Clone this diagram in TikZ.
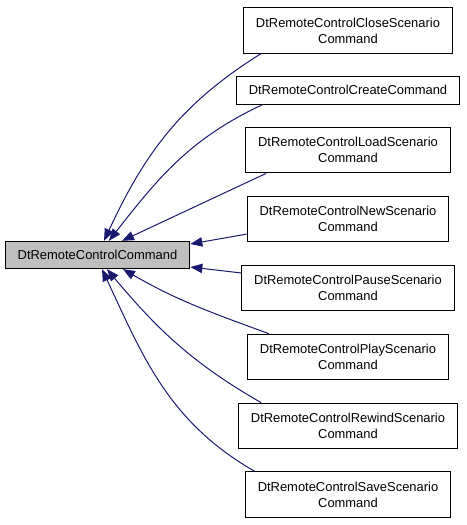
\documentclass[tikz,border=0pt]{standalone}
\usepackage{fontspec}
\setmainfont{Liberation Sans}
\usepackage{tikz}
\usetikzlibrary{arrows.meta,positioning}
\usepackage{xcolor}
\definecolor{edgeblue}{HTML}{191970}
\definecolor{basegray}{HTML}{BFBFBF}

\begin{document}
\begin{tikzpicture}[x=0.75pt,y=0.75pt,node distance=16.9pt,
font=\fontsize{9.7}{12}\selectfont,
cls/.style={rectangle,draw,line width=0.75pt,inner xsep=9.4pt,inner ysep=0pt,minimum height=34pt,align=center},
single/.style={cls,minimum height=20.5pt},
base/.style={single,fill=basegray},
paths/.style={-{Triangle[length=9pt,width=7pt]}, line width=0.75pt, draw=edgeblue},
]
\useasboundingbox (0,0) rectangle (467,-525);

\node [base] (Base) at (97.5,-255) {DtRemoteControlCommand};

\node [cls] (D1) at (348,-30.5) {DtRemoteControlCloseScenario\\Command};
\node [single] (D2) [below=of D1] {DtRemoteControlCreateCommand};
\node [cls] (D3) [below=of D2] {DtRemoteControlLoadScenario\\Command};
\node [cls] (D4) [below=of D3] {DtRemoteControlNewScenario\\Command};
\node [cls] (D5) [below=of D4] {DtRemoteControlPauseScenario\\Command};
\node [cls] (D6) [below=of D5] {DtRemoteControlPlayScenario\\Command};
\node [cls] (D7) [below=of D6] {DtRemoteControlRewindScenario\\Command};
\node [cls] (D8) [below=of D7] {DtRemoteControlSaveScenario\\Command};

% derived classes above the base
\draw [paths] ([xshift=13.5pt]D1.south west) to [out=212,in=65] ([xshift=4.9pt]Base.north);
\draw [paths] ([xshift=20.25pt]D2.south west) to [out=205,in=52] ([xshift=8.6pt]Base.north);
\draw [paths] ([xshift=15.75pt]D3.south west) to ([xshift=18.4pt]Base.north);

% derived classes beside the base
\draw [paths] ([yshift=-11.25pt]D4.west) to ([yshift=8.25pt]Base.east);
\draw [paths] ([yshift=11.25pt]D5.west) to ([yshift=-9pt]Base.east);

% derived classes below the base
\draw [paths] ([xshift=16.5pt]D6.north west) to [out=160,in=-30] ([xshift=19.1pt]Base.south);
\draw [paths] ([xshift=17.25pt]D7.north west) to [out=150,in=-50] ([xshift=7.1pt]Base.south);
\draw [paths] ([xshift=7.5pt]D8.north west) to [out=150,in=-65] ([xshift=3.4pt]Base.south);

\end{tikzpicture}
\end{document}
